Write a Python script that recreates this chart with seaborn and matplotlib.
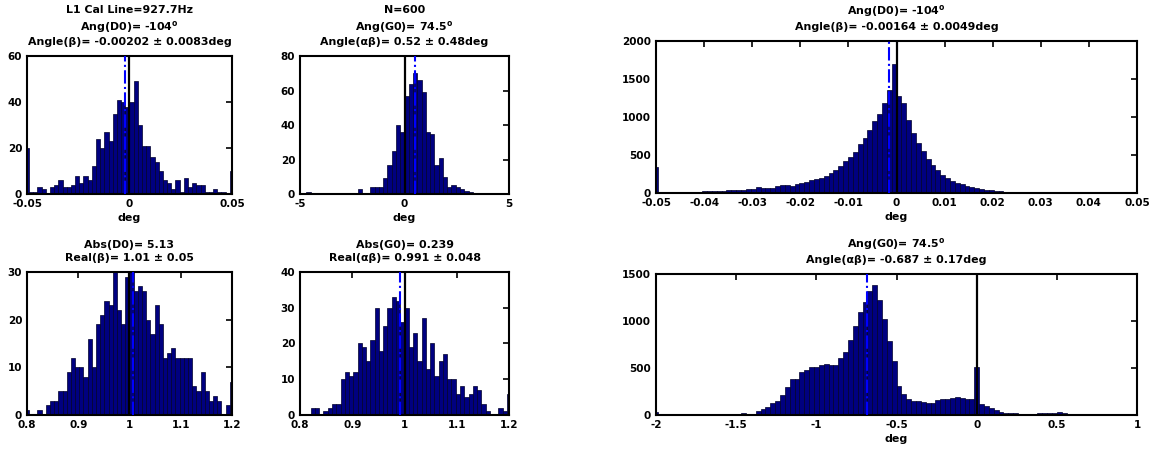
import numpy as np
import pandas as pd
import matplotlib
matplotlib.use("Agg")
import matplotlib.pyplot as plt
import seaborn as sns

# ---------------------------------------------------------------------------
# Histogram counts.  Bin centres run evenly from the lower to the upper axis
# limit, both ends included (the end bins hold the clipped outliers).
# ---------------------------------------------------------------------------

# N=600 run, angle of beta [deg], axis -0.05 .. 0.05
beta_angle_600 = [20, 1, 1, 3, 2, 0, 3, 4, 6, 3, 3, 4, 8, 5, 8, 6, 12, 24, 20, 27, 23, 35, 41, 40, 38,
                  40, 49, 30, 21, 21, 16, 14, 10, 6, 5, 2, 6, 1, 7, 3, 5, 4, 4, 1, 1, 2, 1, 1, 0, 10]

# N=600 run, angle of alpha*beta [deg], axis -5 .. 5
alphabeta_angle_600 = [0, 0, 1, 0, 0, 0, 0, 0, 0, 0, 0, 0, 0, 0, 3, 0, 0, 4, 4, 4, 9, 17, 25, 40, 36,
                       57, 64, 70, 66, 59, 36, 35, 17, 21, 10, 4, 5, 4, 3, 2, 1, 0, 0, 0, 0, 0, 0, 0, 0, 0]

# N=600 run, real part of beta, axis 0.8 .. 1.2
beta_real_600 = [1, 0, 0, 1, 0, 2, 3, 3, 5, 5, 9, 12, 10, 10, 8, 16, 10, 19, 21, 24, 23, 30, 22, 19, 29,
                 30, 26, 27, 26, 20, 17, 23, 19, 12, 13, 14, 12, 12, 12, 12, 6, 5, 9, 5, 3, 4, 3, 0, 2, 7]

# N=600 run, real part of alpha*beta, axis 0.8 .. 1.2
alphabeta_real_600 = [0, 0, 0, 2, 2, 0, 1, 2, 3, 3, 10, 12, 11, 12, 20, 19, 15, 21, 30, 18, 25, 30, 33, 32, 26,
                      30, 19, 23, 15, 27, 13, 20, 11, 15, 17, 10, 10, 6, 8, 5, 6, 8, 7, 3, 1, 0, 0, 2, 1, 6]

# full run, angle of beta [deg], axis -0.05 .. 0.05
beta_angle_all = [340,
                  8, 10, 12, 15, 14, 12, 10, 14, 18, 20,
                  20, 22, 28, 32, 35, 38, 40, 45, 50, 55,
                  80, 60, 70, 72, 95, 100, 105, 95, 115,
                  130, 150, 170, 185, 200, 225, 262, 305, 360, 415,
                  480, 545, 650, 720, 830, 950, 1040, 1190, 1350, 1700,
                  1280, 1179, 960, 795, 655, 546, 445, 362, 306, 240,
                  197, 153, 131, 118, 96, 79, 61, 52, 44, 35,
                  31, 22, 17, 13, 9, 6, 4, 3, 2, 2,
                  1, 1, 1, 0, 0, 0, 0, 0, 0, 0,
                  0, 0, 0, 0, 0, 0, 0, 0, 0, 12]

# full run, angle of alpha*beta [deg], axis -2 .. 1
alphabeta_angle_all = [35,
                       0, 0, 0, 0, 0, 0, 0, 0, 0, 0, 0, 0, 0, 0, 0, 0, 0,
                       25, 15, 15, 45, 65, 90, 125, 150, 215, 300,
                       380, 385, 458, 483, 515, 515, 535, 547, 532, 532,
                       603, 673, 799, 948, 1100, 1207, 1316, 1380, 1221, 1025,
                       790, 570, 310, 220, 170, 153, 150, 140, 125, 130,
                       160, 167, 167, 185, 195, 180, 170, 165, 515, 117,
                       96, 78, 53, 36, 25, 18, 16, 14, 14, 14,
                       15, 20, 22, 25, 25, 28, 18, 7, 4, 2, 1,
                       0, 0, 0, 0, 0, 0, 0, 0, 0, 0, 15]

# Summary statistics shown in the titles (mean drawn as the dash-dot line)
beta_angle_600_mean, beta_angle_600_std = -0.00202, 0.0083
alphabeta_angle_600_mean, alphabeta_angle_600_std = 0.52, 0.48
beta_real_600_mean, beta_real_600_std = 1.006, 0.05
alphabeta_real_600_mean, alphabeta_real_600_std = 0.991, 0.048
beta_angle_all_mean, beta_angle_all_std = -0.00164, 0.0049
alphabeta_angle_all_mean, alphabeta_angle_all_std = -0.687, 0.17

cal_line_hz = 927.7
n_samples = 600
d0_angle, d0_abs = -104, 5.13
g0_angle, g0_abs = 74.5, 0.239

# Tick values
ticks_small_angle = [-0.05, 0, 0.05]
ticks_wide_angle = [-5, 0, 5]
ticks_real = [0.8, 0.9, 1, 1.1, 1.2]
ticks_big_beta = [-0.05, -0.04, -0.03, -0.02, -0.01, 0, 0.01, 0.02, 0.03, 0.04, 0.05]
ticks_big_ab = [-2, -1.5, -1, -0.5, 0, 0.5, 1]
yticks_60 = [0, 20, 40, 60]
yticks_80 = [0, 20, 40, 60, 80]
yticks_30 = [0, 10, 20, 30]
yticks_40 = [0, 10, 20, 30, 40]
yticks_2000 = [0, 500, 1000, 1500, 2000]
yticks_1500 = [0, 500, 1000, 1500]

# ---------------------------------------------------------------------------
sns.set_style("white")
plt.rcParams.update({
    "font.family": ["DejaVu Sans"],
    "font.weight": "bold",
    "mathtext.fontset": "dejavusans",
    "axes.unicode_minus": False,
    "axes.linewidth": 1.5,
    "axes.edgecolor": "black",
    "text.color": "black",
    "axes.labelcolor": "black",
    "xtick.color": "black",
    "ytick.color": "black",
})

BAR_FILL = "#000080"
BAR_EDGE = "#00002a"
TITLE_SIZE = 7.9
TICK_SIZE = 7.5
DEG = r"$^\mathbf{o}$"


def draw_panel(fig, rect, counts, lo, hi, ytop, xticks, yticks, ref, mean, title, xlabel):
    ax = fig.add_axes(rect)
    n = len(counts)
    centres = np.linspace(lo, hi, n)
    half = (hi - lo) / (n - 1) / 2.0
    frame = pd.DataFrame({"value": centres, "count": np.asarray(counts, dtype=float)})
    sns.histplot(data=frame, x="value", weights="count", bins=n,
                 binrange=(lo - half, hi + half), ax=ax,
                 color=BAR_FILL, edgecolor=BAR_EDGE, linewidth=0.5, alpha=1.0)
    ax.axvline(ref, color="black", lw=1.6, zorder=3)
    ax.axvline(mean, color="blue", lw=1.5, ls="-.", zorder=4)
    ax.set_xlim(lo, hi)
    ax.set_ylim(0, ytop)
    ax.set_xticks(xticks)
    ax.set_xticklabels([f"{t:g}" for t in xticks])
    ax.set_yticks(yticks)
    ax.set_yticklabels([f"{t:g}" for t in yticks])
    ax.tick_params(direction="in", top=True, right=True, length=4, width=1.2,
                   labelsize=TICK_SIZE, pad=3.5, colors="black")
    for lab in ax.get_xticklabels() + ax.get_yticklabels():
        lab.set_fontweight("bold")
    ax.set_ylabel("")
    ax.set_xlabel(xlabel, fontsize=TITLE_SIZE, fontweight="bold", labelpad=3, color="black")
    ax.set_title(title, fontsize=TITLE_SIZE, fontweight="bold", pad=8,
                 linespacing=1.3, color="black")
    for s in ax.spines.values():
        s.set_visible(True)
        s.set_linewidth(1.5)
        s.set_color("black")
    return ax


fig = plt.figure(figsize=(11.54, 4.53), dpi=100)

draw_panel(fig, [0.0234, 0.5717, 0.1776, 0.3046], beta_angle_600, -0.05, 0.05, 60,
           ticks_small_angle, yticks_60, 0, beta_angle_600_mean,
           f"L1 Cal Line={cal_line_hz:g}Hz\nAng(D0)= {d0_angle:g}{DEG}\n"
           f"Angle(β)= {beta_angle_600_mean:.3g} ± {beta_angle_600_std:.2g}deg", "deg")

draw_panel(fig, [0.2600, 0.5717, 0.1811, 0.3046], alphabeta_angle_600, -5, 5, 80,
           ticks_wide_angle, yticks_80, 0, alphabeta_angle_600_mean,
           f"N={n_samples}\nAng(G0)= {g0_angle:g}{DEG}\n"
           f"Angle(αβ)= {alphabeta_angle_600_mean:.3g} ± {alphabeta_angle_600_std:.2g}deg", "deg")

draw_panel(fig, [0.0234, 0.0839, 0.1776, 0.3157], beta_real_600, 0.8, 1.2, 30,
           ticks_real, yticks_30, 1, beta_real_600_mean,
           f"Abs(D0)= {d0_abs:g}\nReal(β)= {beta_real_600_mean:.3g} ± {beta_real_600_std:.2g}", "")

draw_panel(fig, [0.2600, 0.0839, 0.1811, 0.3157], alphabeta_real_600, 0.8, 1.2, 40,
           ticks_real, yticks_40, 1, alphabeta_real_600_mean,
           f"Abs(G0)= {g0_abs:g}\nReal(αβ)= {alphabeta_real_600_mean:.3g} ± {alphabeta_real_600_std:.2g}", "")

draw_panel(fig, [0.5685, 0.5740, 0.4168, 0.3355], beta_angle_all, -0.05, 0.05, 2000,
           ticks_big_beta, yticks_2000, 0, beta_angle_all_mean,
           f"Ang(D0)= {d0_angle:g}{DEG}\n"
           f"Angle(β)= {beta_angle_all_mean:.3g} ± {beta_angle_all_std:.2g}deg", "deg")

draw_panel(fig, [0.5685, 0.0839, 0.4168, 0.3113], alphabeta_angle_all, -2, 1, 1500,
           ticks_big_ab, yticks_1500, 0, alphabeta_angle_all_mean,
           f"Ang(G0)= {g0_angle:g}{DEG}\n"
           f"Angle(αβ)= {alphabeta_angle_all_mean:.3g} ± {alphabeta_angle_all_std:.2g}deg", "deg")

fig.savefig("out.png", dpi=100)
